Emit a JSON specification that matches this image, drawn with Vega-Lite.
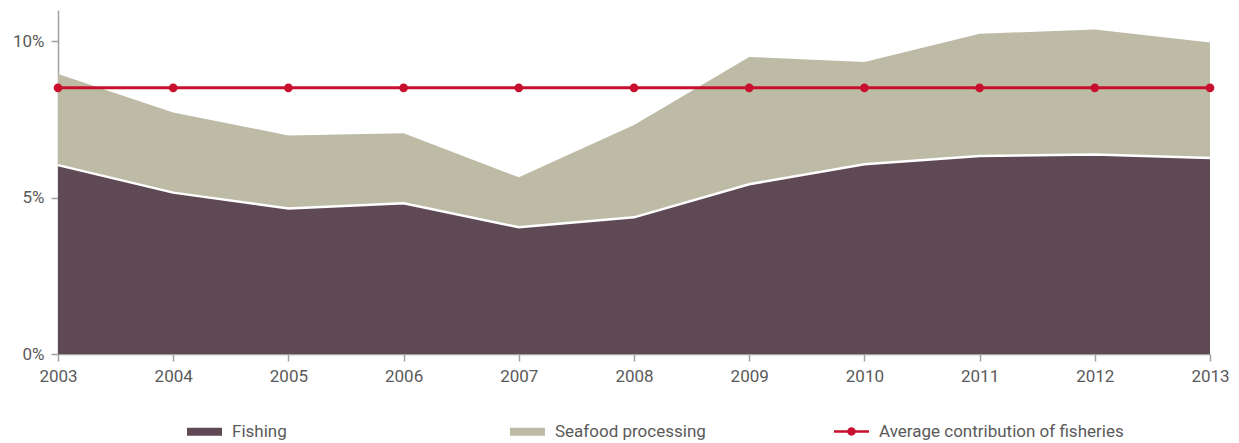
{
  "$schema": "https://vega.github.io/schema/vega-lite/v6.json",
  "width": 1152,
  "height": 344,
  "autosize": {"type": "none"},
  "padding": {"left": 58, "top": 10, "right": 29, "bottom": 89},
  "background": "white",
  "config": {
    "view": {"stroke": null},
    "font": "Roboto, sans-serif",
    "axis": {"labelFont": "Roboto, sans-serif", "labelFontSize": 17, "labelColor": "#5a5a5a", "domainColor": "#a0a0a0", "tickColor": "#a0a0a0", "domainWidth": 1.5, "tickWidth": 1.5, "grid": false, "title": null},
    "legend": {"labelFont": "Roboto, sans-serif", "labelFontSize": 17, "labelColor": "#5a5a5a", "labelLimit": 400, "title": null}
  },
  "data": {"values": [
    {"year": 2003, "series": "Fishing", "value": 6.04},
    {"year": 2004, "series": "Fishing", "value": 5.16},
    {"year": 2005, "series": "Fishing", "value": 4.65},
    {"year": 2006, "series": "Fishing", "value": 4.82},
    {"year": 2007, "series": "Fishing", "value": 4.05},
    {"year": 2008, "series": "Fishing", "value": 4.37},
    {"year": 2009, "series": "Fishing", "value": 5.43},
    {"year": 2010, "series": "Fishing", "value": 6.07},
    {"year": 2011, "series": "Fishing", "value": 6.33},
    {"year": 2012, "series": "Fishing", "value": 6.38},
    {"year": 2013, "series": "Fishing", "value": 6.27},
    {"year": 2003, "series": "Seafood processing", "value": 2.91},
    {"year": 2004, "series": "Seafood processing", "value": 2.56},
    {"year": 2005, "series": "Seafood processing", "value": 2.34},
    {"year": 2006, "series": "Seafood processing", "value": 2.24},
    {"year": 2007, "series": "Seafood processing", "value": 1.60},
    {"year": 2008, "series": "Seafood processing", "value": 2.95},
    {"year": 2009, "series": "Seafood processing", "value": 4.07},
    {"year": 2010, "series": "Seafood processing", "value": 3.27},
    {"year": 2011, "series": "Seafood processing", "value": 3.91},
    {"year": 2012, "series": "Seafood processing", "value": 4.00},
    {"year": 2013, "series": "Seafood processing", "value": 3.69},
    {"year": 2003, "series": "Average contribution of fisheries", "value": 8.51},
    {"year": 2004, "series": "Average contribution of fisheries", "value": 8.51},
    {"year": 2005, "series": "Average contribution of fisheries", "value": 8.51},
    {"year": 2006, "series": "Average contribution of fisheries", "value": 8.51},
    {"year": 2007, "series": "Average contribution of fisheries", "value": 8.51},
    {"year": 2008, "series": "Average contribution of fisheries", "value": 8.51},
    {"year": 2009, "series": "Average contribution of fisheries", "value": 8.51},
    {"year": 2010, "series": "Average contribution of fisheries", "value": 8.51},
    {"year": 2011, "series": "Average contribution of fisheries", "value": 8.51},
    {"year": 2012, "series": "Average contribution of fisheries", "value": 8.51},
    {"year": 2013, "series": "Average contribution of fisheries", "value": 8.51}
  ]},
  "encoding": {
    "x": {"field": "year", "type": "quantitative", "scale": {"domain": [2003, 2013], "nice": false, "zero": false},
      "axis": {"values": [2003,2004,2005,2006,2007,2008,2009,2010,2011,2012,2013], "format": "d", "tickSize": 7, "labelPadding": 7, "labelFlush": false}}
  },
  "layer": [
    {
      "transform": [{"filter": "datum.series !== 'Average contribution of fisheries'"}],
      "mark": {"type": "area", "opacity": 1},
      "encoding": {
        "y": {"field": "value", "type": "quantitative", "stack": "zero", "scale": {"domain": [0, 11], "nice": false},
          "axis": {"values": [0, 5, 10], "labelExpr": "datum.value + '%'", "tickSize": 7, "labelPadding": 7}},
        "order": {"field": "series", "sort": "ascending"},
        "fill": {"field": "series", "type": "nominal",
          "scale": {"domain": ["Fishing", "Seafood processing"], "range": ["#5e4955", "#bdbba5"]},
          "legend": {
            "orient": "none", "legendX": 129, "legendY": 404,
            "direction": "horizontal", "columns": 2, "gridAlign": "all", "columnPadding": 127,
            "symbolType": "M-1,-0.23H1V0.23H-1Z", "symbolSize": 1225, "symbolStrokeWidth": 0,
            "labelOffset": 10
          }
        }
      }
    },
    {
      "transform": [{"filter": "datum.series === 'Fishing'"}],
      "mark": {"type": "line", "color": "white", "strokeWidth": 2.5},
      "encoding": {"y": {"field": "value", "type": "quantitative"}}
    },
    {
      "transform": [{"filter": "datum.series === 'Average contribution of fisheries'"}],
      "mark": {"type": "line", "strokeWidth": 3},
      "encoding": {
        "y": {"field": "value", "type": "quantitative"},
        "stroke": {"field": "series", "type": "nominal",
          "scale": {"domain": ["Average contribution of fisheries"], "range": ["#c8102e"]},
          "legend": {
            "orient": "none", "legendX": 776, "legendY": 404,
            "symbolType": "M-1,-0.07H-0.2V0.07H-1Z M0.2,-0.07H1V0.07H0.2Z M0.24,0 A0.24,0.24 0 1,1 -0.24,0 A0.24,0.24 0 1,1 0.24,0 Z",
            "symbolSize": 1225, "symbolStrokeWidth": 0, "symbolFillColor": "#c8102e",
            "labelOffset": 10,
            "encode": {"symbols": {"update": {"fill": {"value": "#c8102e"}, "strokeWidth": {"value": 0}}}}
          }
        }
      }
    },
    {
      "transform": [{"filter": "datum.series === 'Average contribution of fisheries'"}],
      "mark": {"type": "point", "filled": true, "size": 75, "color": "#c8102e", "opacity": 1},
      "encoding": {
        "y": {"field": "value", "type": "quantitative"}
      }
    }
  ]
}
